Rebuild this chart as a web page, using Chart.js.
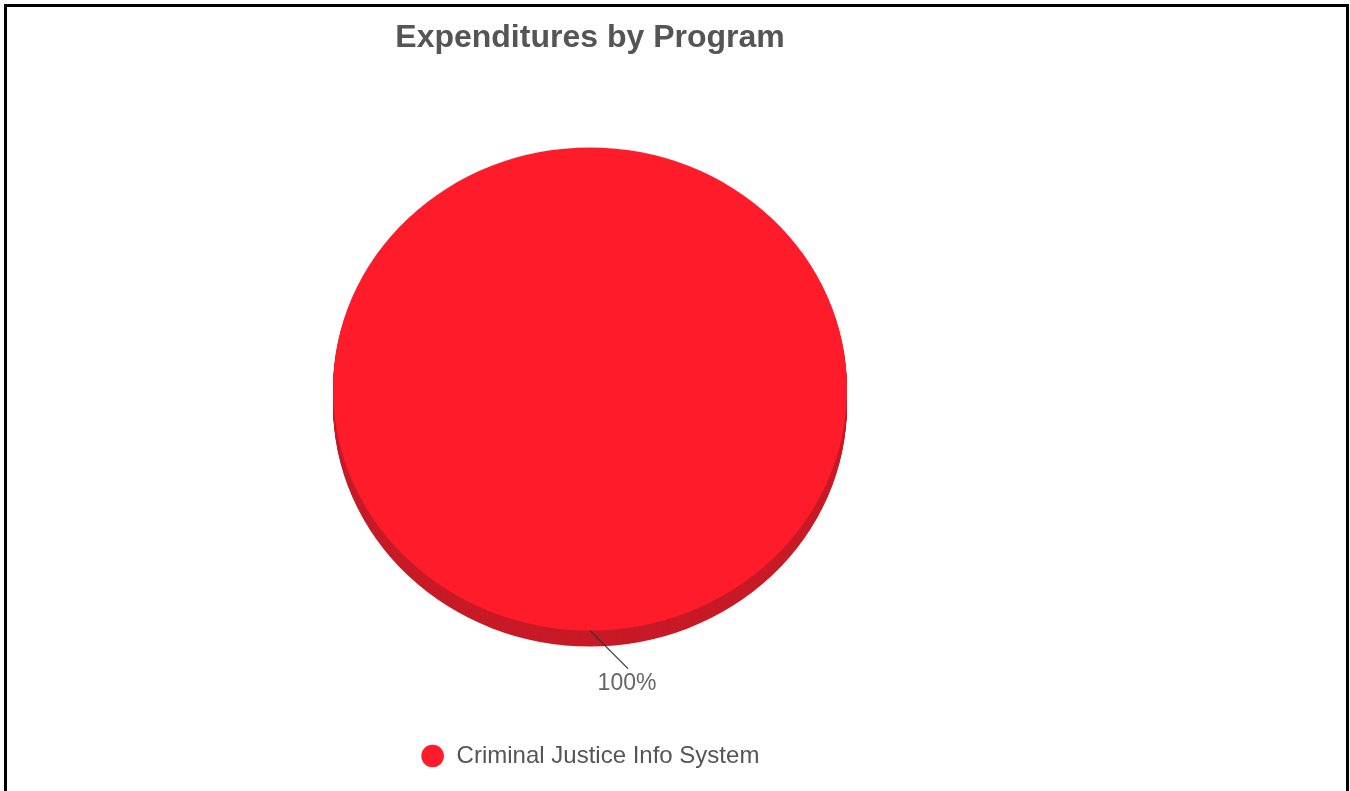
<!DOCTYPE html>
<html>
<head>
<meta charset="utf-8">
<title>Expenditures by Program</title>
<script src="https://cdn.jsdelivr.net/npm/chart.js@4.4.1/dist/chart.umd.min.js"></script>
<style>
    body { margin: 0; background: #fff; }
    #frame {
        position: absolute; left: 4px; top: 4px;
        width: 1339px; height: 820px;
        border: 3px solid #000;
    }
    #wrap { position: absolute; left: 0; top: 0; width: 1180px; height: 791px; }
</style>
</head>
<body>
<div id="frame"></div>
<div id="wrap"><canvas id="programChart"></canvas></div>
<script>
const programs = ['Criminal Justice Info System'];
const shares = [100];
const sliceColors = ['#FE1C2B'];
const sideColors = ['#C71A27'];

const TILT = 0.94;   // vertical squash of the pie face
const DEPTH = 16;    // thickness of the pie

// fake 3D: draw the pie side first, then squash the face
const pie3d = {
    id: 'pie3d',
    beforeDatasetsDraw(chart) {
        const ctx = chart.ctx;
        const arcs = chart.getDatasetMeta(0).data;
        ctx.save();
        arcs.forEach((arc, i) => {
            const { x, y, startAngle, endAngle, outerRadius } = arc.getProps(['x', 'y', 'startAngle', 'endAngle', 'outerRadius'], true);
            ctx.fillStyle = sideColors[i % sideColors.length];
            for (let dy = DEPTH; dy >= 1; dy--) {
                ctx.save();
                ctx.translate(x, y + dy);
                ctx.scale(1, TILT);
                ctx.beginPath();
                ctx.moveTo(0, 0);
                ctx.arc(0, 0, outerRadius, startAngle, endAngle);
                ctx.closePath();
                ctx.fill();
                ctx.restore();
            }
        });
        ctx.restore();

        const first = arcs[0];
        ctx.save();
        ctx.translate(first.x, first.y);
        ctx.scale(1, TILT);
        ctx.translate(-first.x, -first.y);
    },
    afterDatasetsDraw(chart) {
        const ctx = chart.ctx;
        ctx.restore();

        // percentage labels with leader lines
        const arcs = chart.getDatasetMeta(0).data;
        const total = shares.reduce((a, b) => a + b, 0);
        arcs.forEach((arc, i) => {
            const { x, y, startAngle, endAngle, outerRadius } = arc.getProps(['x', 'y', 'startAngle', 'endAngle', 'outerRadius'], true);
            const mid = (startAngle + endAngle) / 2;
            const sx = x + Math.cos(mid) * outerRadius;
            const sy = y + Math.sin(mid) * outerRadius * TILT;
            const ex = sx + 38;
            const ey = sy + 38;
            ctx.save();
            ctx.strokeStyle = '#333';
            ctx.lineWidth = 1.2;
            ctx.beginPath();
            ctx.moveTo(sx, sy);
            ctx.lineTo(ex, ey);
            ctx.stroke();
            ctx.fillStyle = '#666';
            ctx.font = '23px "Liberation Sans", Arial, sans-serif';
            ctx.textAlign = 'center';
            ctx.textBaseline = 'middle';
            ctx.fillText(Math.round(shares[i] / total * 100) + '%', ex - 1, ey + 15);
            ctx.restore();
        });
    }
};

new Chart(document.getElementById('programChart'), {
    type: 'pie',
    data: {
        labels: programs,
        datasets: [{
            data: shares,
            backgroundColor: sliceColors,
            borderWidth: 0,
            radius: 257
        }]
    },
    options: {
        responsive: true,
        maintainAspectRatio: false,
        animation: false,
        events: [],
        layout: { padding: { bottom: 13 } },
        plugins: {
            title: {
                display: true,
                text: 'Expenditures by Program',
                color: '#555',
                font: { family: '"Liberation Sans", Arial, sans-serif', size: 32, weight: 'bold', lineHeight: 1 },
                padding: { top: 22, bottom: -6 }
            },
            legend: {
                position: 'bottom',
                labels: {
                    color: '#555',
                    font: { family: '"Liberation Sans", Arial, sans-serif', size: 24 },
                    usePointStyle: true,
                    pointStyle: 'circle',
                    boxWidth: 24,
                    boxHeight: 16,
                    padding: 14
                }
            },
            tooltip: { enabled: false }
        }
    },
    plugins: [pie3d]
});
</script>
</body>
</html>
